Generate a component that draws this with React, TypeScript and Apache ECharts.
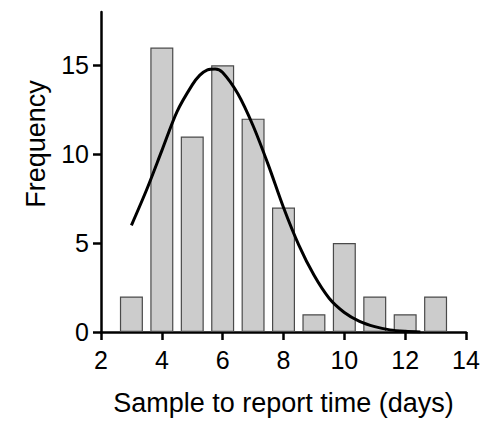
import React, { useEffect, useRef } from "react";
import * as echarts from "echarts";

const binCenters = [3, 4, 5, 6, 7, 8, 9, 10, 11, 12, 13];
const frequencies = [2, 16, 11, 15, 12, 7, 1, 5, 2, 1, 2];

const curveX = [3, 3.5, 4, 4.5, 5, 5.25, 5.5, 5.75, 6, 6.5, 7, 7.5, 8, 8.5, 9, 9.5, 10, 10.5, 11, 11.5, 12, 12.5];
const curveY = [6.0, 8.0, 10.2, 12.4, 13.9, 14.45, 14.75, 14.8, 14.6, 13.4, 11.6, 9.4, 7.0, 4.9, 3.2, 1.9, 1.1, 0.6, 0.3, 0.12, 0.04, 0.0];

const yTicks = [0, 5, 10, 15];

export default function App() {
  const ref = useRef<HTMLDivElement>(null);
  useEffect(() => {
    document.body.style.margin = "0";
    if (!ref.current) return;
    const chart = echarts.init(ref.current, undefined, { renderer: "svg" });
    const font = "Liberation Sans, Arial, sans-serif";
    chart.setOption({
      animation: false,
      grid: { left: 101, right: 18, top: 12, bottom: 83, containLabel: false },
      xAxis: {
        type: "value",
        min: 2,
        max: 14,
        interval: 2,
        name: "Sample to report time (days)",
        nameLocation: "middle",
        nameGap: 57,
        nameTextStyle: { fontFamily: font, fontSize: 27, color: "#000" },
        axisLine: { show: true, lineStyle: { color: "#000", width: 2.5 } },
        axisTick: { show: true, length: 8, lineStyle: { color: "#000", width: 2.5 } },
        axisLabel: { fontFamily: font, fontSize: 25, color: "#000", margin: 15 },
        splitLine: { show: false },
      },
      yAxis: {
        type: "value",
        min: 0,
        max: 18,
        name: "Frequency",
        nameLocation: "middle",
        nameGap: 52,
        nameTextStyle: { fontFamily: font, fontSize: 27, color: "#000", padding: [0, 0, 0, 56] },
        axisLine: { show: true, lineStyle: { color: "#000", width: 2.5 } },
        axisTick: { show: true, length: 8, customValues: yTicks, lineStyle: { color: "#000", width: 2.5 } },
        axisLabel: { fontFamily: font, fontSize: 25, color: "#000", margin: 12, customValues: yTicks },
        splitLine: { show: false },
      },
      series: [
        {
          type: "bar",
          data: binCenters.map((x, i) => [x, frequencies[i]]),
          barWidth: 23,
          itemStyle: { color: "#cccccc", borderColor: "#4a4a4a", borderWidth: 1.2 },
        },
        {
          type: "line",
          data: curveX.map((x, i) => [x, curveY[i]]),
          smooth: 0.3,
          symbol: "none",
          lineStyle: { color: "#000", width: 3 },
          z: 5,
        },
      ],
    });
    return () => chart.dispose();
  }, []);
  return <div ref={ref} style={{ width: 484, height: 421 }} />;
}
